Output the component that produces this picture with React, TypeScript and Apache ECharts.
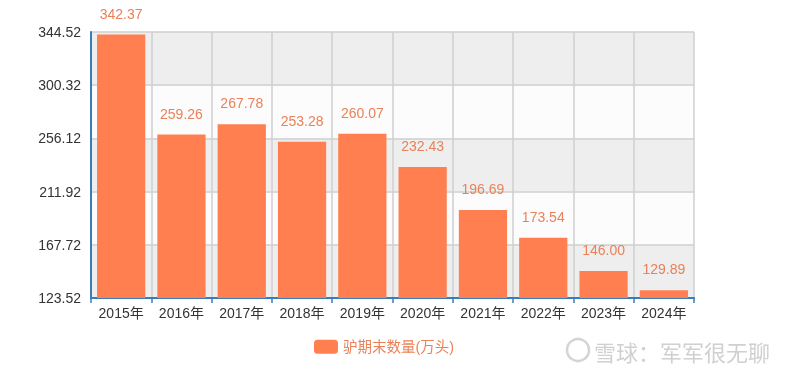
import React, { useEffect, useRef } from "react";
import * as echarts from "echarts";

const categories = ["2015年", "2016年", "2017年", "2018年", "2019年", "2020年", "2021年", "2022年", "2023年", "2024年"];
const values = [342.37, 259.26, 267.78, 253.28, 260.07, 232.43, 196.69, 173.54, 146.0, 129.89];
const seriesName = "驴期末数量(万头)";
const axisBase = 123.52;
const axisTop = 344.52;
const axisStep = 44.2;
const watermark = "雪球：军军很无聊";

export default function App() {
  const ref = useRef<HTMLDivElement>(null);
  useEffect(() => {
    if (!ref.current) return;
    const chart = echarts.init(ref.current, undefined, { renderer: "svg" });
    const span = +(axisTop - axisBase).toFixed(2);
    chart.setOption({
      animation: false,
      textStyle: { fontFamily: "Arial, 'Liberation Sans', 'Noto Sans CJK SC', sans-serif" },
      grid: { left: 91, right: 106, top: 32, bottom: 77, containLabel: false },
      legend: {
        bottom: 16,
        left: 309,
        itemWidth: 24,
        itemHeight: 14,
        itemGap: 10,
        textStyle: { color: "#e9825a", fontSize: 14.5 },
        data: [seriesName],
      },
      xAxis: {
        type: "category",
        data: categories,
        axisLine: { lineStyle: { color: "#3b7bb8", width: 2 } },
        axisTick: { show: true, length: 5, lineStyle: { color: "#3b7bb8", width: 1.5 } },
        axisLabel: { color: "#333", fontSize: 14, margin: 8 },
        splitLine: { show: true, lineStyle: { color: "#cfcfcf", width: 1.5 } },
      },
      yAxis: {
        type: "value",
        min: 0,
        max: span,
        interval: axisStep,
        axisLine: { show: true, lineStyle: { color: "#3b7bb8", width: 2 } },
        axisTick: { show: false },
        axisLabel: {
          color: "#333",
          fontSize: 14,
          margin: 10,
          formatter: (v: number) => (v + axisBase).toFixed(2),
        },
        splitLine: { show: true, lineStyle: { color: "#cfcfcf", width: 1.5 } },
        splitArea: { show: true, areaStyle: { color: ["#eeeeee", "#fcfcfc"] } },
      },
      series: [
        {
          name: seriesName,
          type: "bar",
          barWidth: "80%",
          data: values.map((v) => +(v - axisBase).toFixed(2)),
          itemStyle: { color: "#ff7f50" },
          label: {
            show: true,
            position: "top",
            distance: 14,
            color: "#e9825a",
            fontSize: 14,
            formatter: (p: any) => values[p.dataIndex].toFixed(2),
          },
        },
      ],
      graphic: [
        {
          type: "circle",
          shape: { cx: 578, cy: 350, r: 11 },
          style: { fill: "none", stroke: "#d4d4d4", lineWidth: 2.5 },
        },
        {
          type: "text",
          x: 594,
          y: 351,
          style: {
            text: watermark,
            fill: "#d0d0d0",
            fontSize: 22,
            verticalAlign: "middle",
            fontFamily: "'Noto Sans CJK SC', sans-serif",
          },
        },
      ],
    });
    return () => chart.dispose();
  }, []);
  return <div ref={ref} style={{ position: "fixed", left: 0, top: 0, width: 800, height: 375 }} />;
}
